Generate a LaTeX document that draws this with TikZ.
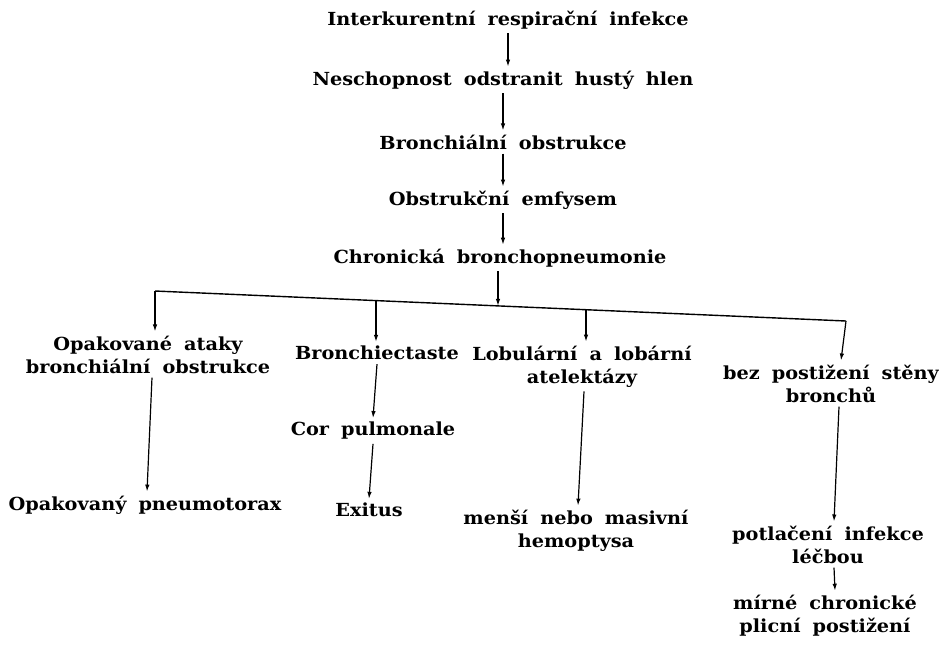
\documentclass[tikz,border=0pt]{standalone}
\usepackage{fontspec}
\setmainfont{DejaVu Serif}[WordSpace=1.8, FakeStretch=1.07]
\usetikzlibrary{arrows.meta,calc}
\begin{document}
\begin{tikzpicture}[x=1pt,y=-1pt,
  lbl/.style={inner xsep=2pt, inner ysep=4pt, align=center, font=\fontsize{18}{23}\selectfont\bfseries},
  arr/.style={-{Latex[length=7pt,width=4.5pt]}, line width=1.2pt},
  barline/.style={line width=1.4pt}]
\useasboundingbox[fill=white] (0,0) rectangle (939,646);
% main chain
\node[lbl] (n1) at (508,20) {Interkurentní respirační infekce};
\node[lbl] (n2) at (503,80) {Neschopnost odstranit hustý hlen};
\node[lbl] (n3) at (503,142) {Bronchiální obstrukce};
\node[lbl] (n4) at (503,200) {Obstrukční emfysem};
\node[lbl] (n5) at (500,258) {Chronická bronchopneumonie};
% second row
\node[lbl] (opak) at (148,354.5) {Opakované ataky\\bronchiální obstrukce};
\node[lbl] (bron) at (377,353) {Bronchiectaste};
\node[lbl] (lob) at (582,366.5) {Lobulární a lobární\\atelektázy};
\node[lbl] (bez) at (831,383.5) {bez postižení stěny\\bronchů};
% lower rows
\node[lbl] (pneu) at (145,505) {Opakovaný pneumotorax};
\node[lbl] (cor) at (373,431) {Cor pulmonale};
\node[lbl] (exit) at (369,510) {Exitus};
\node[lbl] (mensi) at (576,530.5) {menší nebo masivní\\hemoptysa};
\node[lbl] (potl) at (828,544.5) {potlačení infekce\\léčbou};
\node[lbl] (mirne) at (825,615.5) {mírné chronické\\plicní postižení};
% distribution bar
\coordinate (bl) at (155,291);
\coordinate (br) at (846,321);
\coordinate (jc) at (498,305.9);
\coordinate (j2) at (376,300.6);
\coordinate (j3) at (586,309.7);
\draw[barline] (bl) -- (br);
% chain arrows
\draw[arr] (n1.south) -- (n1.south |- n2.north);
\draw[arr] (n2.south -| n3) -- (n3.north);
\draw[arr] (n3.south) -- (n4.north);
\draw[arr] (n4.south) -- (n4.south |- n5.north);
\draw[arr] (n5.south -| jc) -- (jc);
% branch arrows
\draw[arr] (bl) -- (bl |- opak.north);
\draw[arr] (j2) -- (j2 |- bron.north);
\draw[arr] (j3) -- (j3 |- lob.north);
\draw[arr] (br) -- ([xshift=10pt]bez.north);
% lower arrows
\draw[arr] ([xshift=4pt]opak.south) -- ([xshift=2pt]pneu.north);
\draw[arr] (bron.south) -- (cor.north);
\draw[arr] (cor.south) -- (exit.north);
\draw[arr] ([xshift=2pt]lob.south) -- ([xshift=2pt]mensi.north);
\draw[arr] ([xshift=8pt]bez.south) -- ([xshift=6pt]potl.north);
\draw[arr] ([xshift=6pt]potl.south) -- ([xshift=10pt]mirne.north);
\end{tikzpicture}
\end{document}
